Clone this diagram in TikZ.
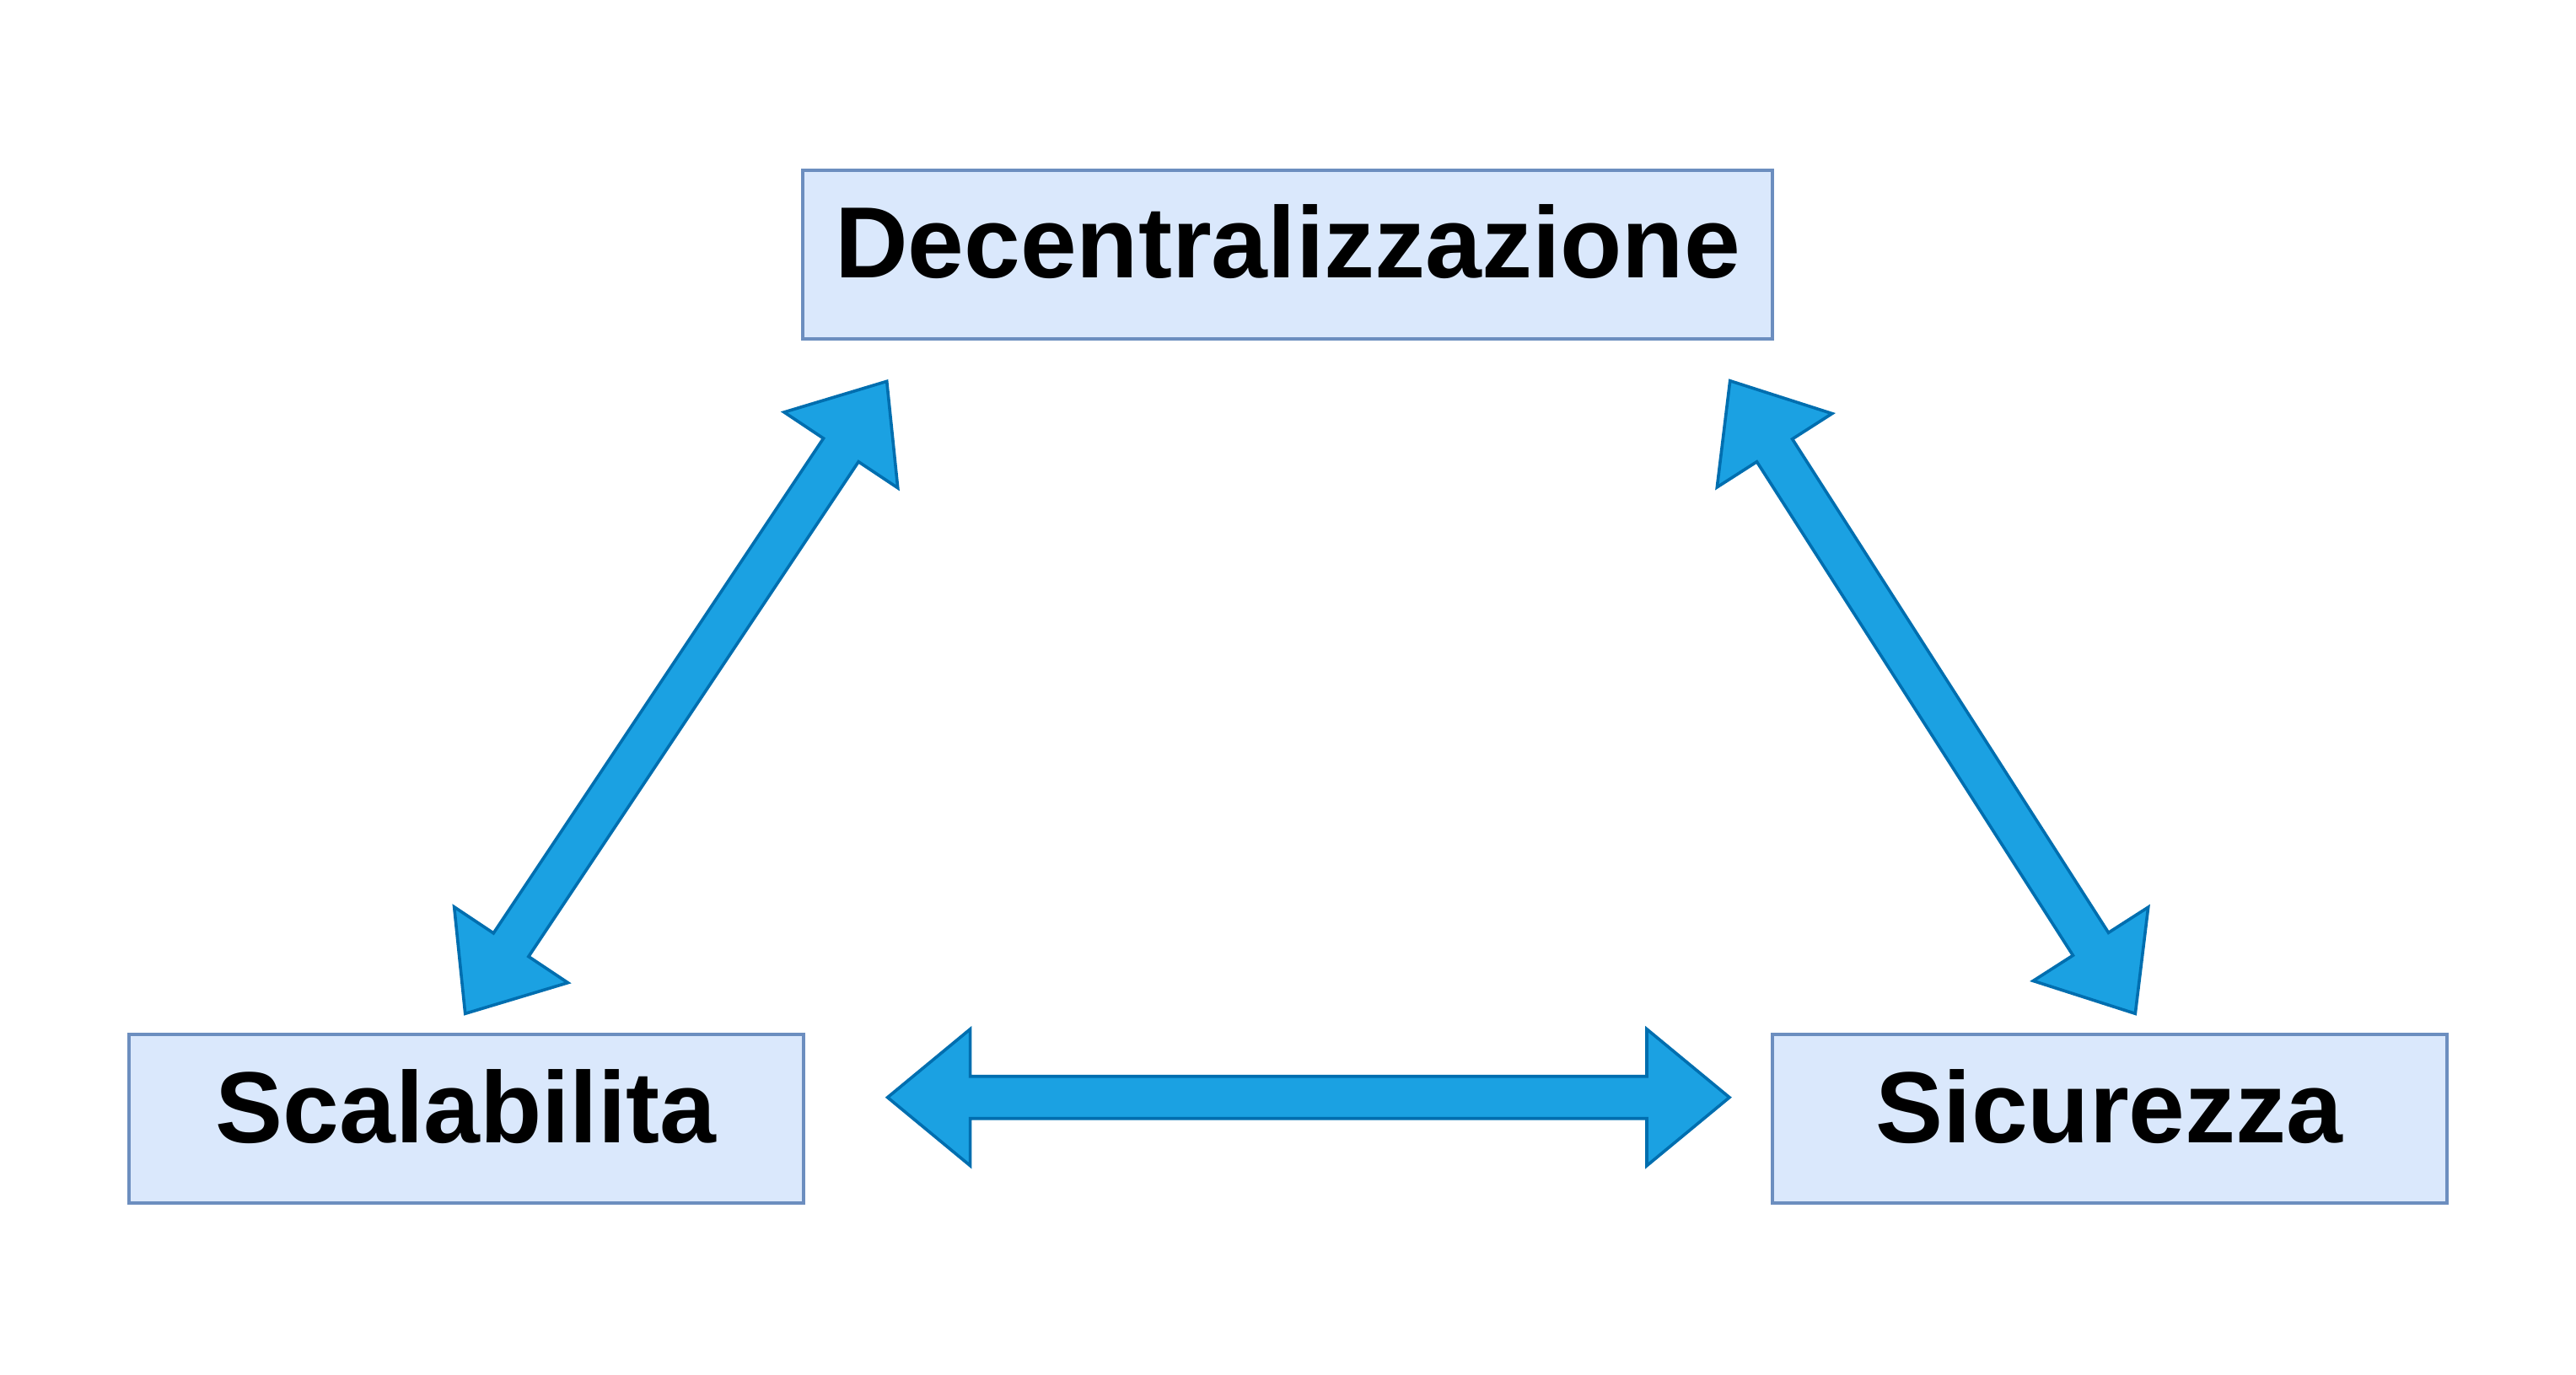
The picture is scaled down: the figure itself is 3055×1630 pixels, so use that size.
\documentclass[tikz,border=0pt]{standalone}
\usepackage{fontspec}
\setmainfont{Liberation Sans}
\usetikzlibrary{calc}
\definecolor{boxfill}{HTML}{DAE8FC}
\definecolor{boxline}{HTML}{6C8EBF}
\definecolor{arrfill}{HTML}{1BA1E2}
\definecolor{arrline}{HTML}{006EAF}
\newcommand{\fatarrow}[2]{%
  \draw[fatarr] (#1)
    -- ($ (#1) ! 49pt ! (#2) ! 40.5pt ! 90:(#2) $)
    -- ($ (#1) ! 49pt ! (#2) ! 12.5pt ! 90:(#2) $)
    -- ($ (#2) ! 49pt ! (#1) ! 12.5pt ! -90:(#1) $)
    -- ($ (#2) ! 49pt ! (#1) ! 40.5pt ! -90:(#1) $)
    -- (#2)
    -- ($ (#2) ! 49pt ! (#1) ! 40.5pt ! 90:(#1) $)
    -- ($ (#2) ! 49pt ! (#1) ! 12.5pt ! 90:(#1) $)
    -- ($ (#1) ! 49pt ! (#2) ! 12.5pt ! -90:(#2) $)
    -- ($ (#1) ! 49pt ! (#2) ! 40.5pt ! -90:(#2) $)
    -- cycle;}
\begin{document}
\begin{tikzpicture}[x=0.5pt,y=-0.5pt,
  box/.style={draw=boxline,fill=boxfill,line width=2pt,inner sep=0pt,
    minimum height=100pt,text depth=15pt,
    font=\bfseries\fontsize{60}{72}\selectfont},
  fatarr/.style={draw=arrline,fill=arrfill,line width=1.8pt,line join=miter}]
\useasboundingbox (0,0) rectangle (3055,1630);
\node[box,minimum width=575pt] (dec) at (1527,301.5) {Decentralizzazione};
\node[box,minimum width=400pt] (sca) at (552.5,1327) {Scalabilita};
\node[box,minimum width=400pt] (sic) at (2501.5,1327) {Sicurezza};
\coordinate (decSW) at (1051.7,452.3);
\coordinate (scaN) at (551.7,1202.3);
\coordinate (decSE) at (2051.7,451.7);
\coordinate (sicN) at (2532.3,1202.3);
\coordinate (scaE) at (1052.6,1301.7);
\coordinate (sicW) at (2051,1301.7);
\fatarrow{decSW}{scaN}
\fatarrow{decSE}{sicN}
\fatarrow{scaE}{sicW}
\end{tikzpicture}
\end{document}
